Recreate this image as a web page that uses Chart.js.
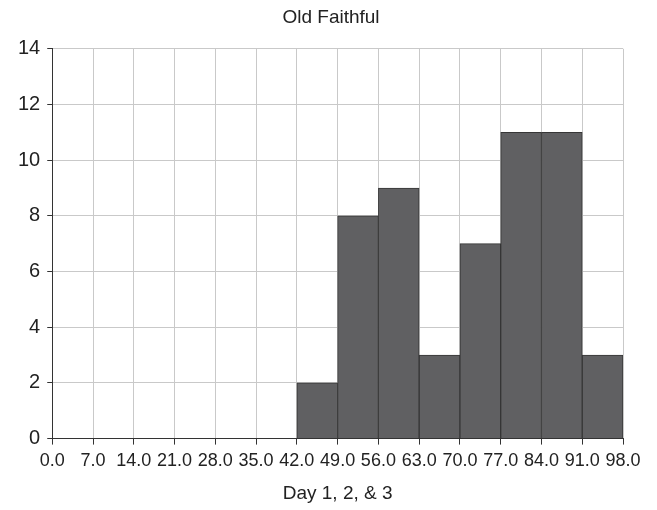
<!DOCTYPE html>
<html>
<head>
<meta charset="utf-8">
<script src="https://cdn.jsdelivr.net/npm/chart.js@4.4.1/dist/chart.umd.min.js"></script>
<style>
  html, body { margin: 0; padding: 0; background: #fff; }
  #wrap { width: 657px; height: 510px; position: relative; }
</style>
</head>
<body>
<div id="wrap"><canvas id="histChart"></canvas></div>
<script>
// bin edges (left side of each bin) and counts, Old Faithful histogram
const binStarts = [0, 7, 14, 21, 28, 35, 42, 49, 56, 63, 70, 77, 84, 91];
const binWidth = 7;
const counts = [0, 0, 0, 0, 0, 0, 2, 8, 9, 3, 7, 11, 11, 3];
const yTicks = [0, 2, 4, 6, 8, 10, 12, 14];

const points = binStarts.map((s, i) => ({ x: s + binWidth / 2, y: counts[i] }));

Chart.defaults.font.family = "'Liberation Sans', Arial, sans-serif";
Chart.defaults.color = '#222';

new Chart(document.getElementById('histChart').getContext('2d'), {
    type: 'bar',
    data: {
        datasets: [{
            label: 'Frequency',
            data: points,
            backgroundColor: '#606062',
            borderColor: '#363636',
            borderWidth: 1,
            barPercentage: 1,
            categoryPercentage: 1
        }]
    },
    options: {
        responsive: true,
        maintainAspectRatio: false,
        animation: false,
        layout: { padding: { left: 11, right: 6, top: 0, bottom: 5 } },
        scales: {
            x: {
                type: 'linear',
                min: 0,
                max: 98,
                offset: false,
                grid: { offset: false, color: '#c9c9c9', tickColor: '#333', tickLength: 6 },
                border: { color: '#333', width: 1 },
                ticks: {
                    stepSize: 7,
                    autoSkip: false,
                    maxRotation: 0,
                    padding: 6,
                    font: { size: 18 },
                    callback: v => Number(v).toFixed(1)
                },
                title: { display: true, text: 'Day 1, 2, & 3', font: { size: 19 }, padding: { top: 4, bottom: 0 } }
            },
            y: {
                min: 0,
                max: 14,
                afterBuildTicks: axis => { axis.ticks = yTicks.map(v => ({ value: v })); },
                grid: { color: '#c9c9c9', tickColor: '#333', tickLength: 5 },
                border: { color: '#333', width: 1 },
                ticks: { padding: 7, font: { size: 20 } }
            },
            // empty right-hand spacer so the title stays centred
            spacer: {
                position: 'right',
                display: true,
                grid: { display: false, drawTicks: false },
                border: { display: false },
                ticks: { display: false },
                afterFit: axis => { axis.width = 28; }
            }
        },
        plugins: {
            legend: { display: false },
            tooltip: { enabled: false },
            title: {
                display: true,
                text: 'Old Faithful',
                font: { size: 19, weight: 'normal' },
                color: '#222',
                padding: { top: 6, bottom: 20 }
            }
        }
    }
});
</script>
</body>
</html>
